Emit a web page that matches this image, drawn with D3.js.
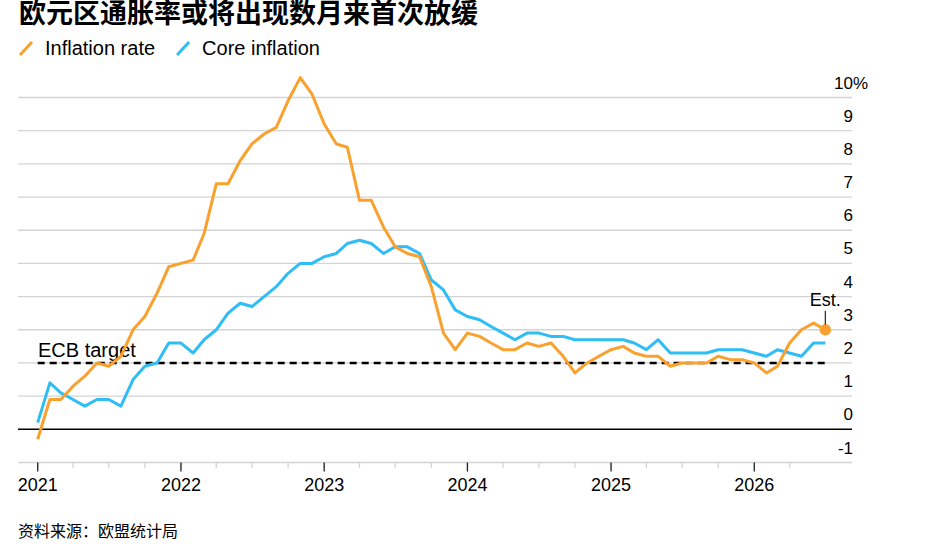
<!DOCTYPE html>
<html>
<head>
<meta charset="utf-8">
<script src="https://cdn.jsdelivr.net/npm/d3@7"></script>
<style>
  body { margin: 0; background: #fff; }
  svg { display: block; font-family: "Liberation Sans", Arial, sans-serif; }
</style>
</head>
<body>
<svg id="chart" width="935" height="551"></svg>
<script>
/*jslint browser:true */

// Monthly readings, first point is Jan 2021 on the axis
const firstMonth = new Date(2021, 0, 1);

const inflationRate = [
  -0.3, 0.9, 0.9, 1.3, 1.6, 2.0, 1.9, 2.2, 3.0, 3.4, 4.1, 4.9,
  5.0, 5.1, 5.9, 7.4, 7.4, 8.1, 8.6, 8.9, 9.1, 9.9, 10.6, 10.1,
  9.2, 8.6, 8.5, 6.9, 6.9, 6.1, 5.5, 5.3, 5.2, 4.3, 2.9, 2.4,
  2.9, 2.8, 2.6, 2.4, 2.4, 2.6, 2.5, 2.6, 2.2, 1.7, 2.0, 2.2,
  2.4, 2.5, 2.3, 2.2, 2.2, 1.9, 2.0, 2.0, 2.0, 2.2, 2.1, 2.1,
  2.0, 1.7, 1.9, 2.6, 3.0, 3.2, 3.0
];

const coreInflation = [
  0.2, 1.4, 1.1, 0.9, 0.7, 0.9, 0.9, 0.7, 1.5, 1.9, 2.0, 2.6,
  2.6, 2.3, 2.7, 3.0, 3.5, 3.8, 3.7, 4.0, 4.3, 4.7, 5.0, 5.0,
  5.2, 5.3, 5.6, 5.7, 5.6, 5.3, 5.5, 5.5, 5.3, 4.5, 4.2, 3.6,
  3.4, 3.3, 3.1, 2.9, 2.7, 2.9, 2.9, 2.8, 2.8, 2.7, 2.7, 2.7,
  2.7, 2.7, 2.6, 2.4, 2.7, 2.3, 2.3, 2.3, 2.3, 2.4, 2.4, 2.4,
  2.3, 2.2, 2.4, 2.3, 2.2, 2.6, 2.6
];

const ecbTarget = 2;
const yTicks = [-1, 0, 1, 2, 3, 4, 5, 6, 7, 8, 9, 10];
const yearLabels = ['2021', '2022', '2023', '2024', '2025', '2026'];

const titleText = '欧元区通胀率或将出现数月来首次放缓';
const sourceText = '资料来源：欧盟统计局';
const legendItems = [
  { label: 'Inflation rate', color: '#f9a12e' },
  { label: 'Core inflation', color: '#2ebdf5' }
];

(function () {
  'use strict';

  const svg = d3.select('#chart');
  const orange = legendItems[0].color;
  const blue = legendItems[1].color;

  const gridLeft = 18;
  const gridRight = 852;

  const monthDate = i => d3.timeMonth.offset(firstMonth, i);
  const years = yearLabels.map(y => new Date(+y, 0, 1));

  const x = d3.scaleTime()
    .domain([years[0], years[years.length - 1]])
    .range([37.7, 754.3]);

  const y = d3.scaleLinear()
    .domain([-1, 10])
    .range([462.5, 97.5]);

  // Title
  svg.append('text')
    .attr('x', 19)
    .attr('y', 23)
    .style('font-family', '"Noto Sans CJK SC", sans-serif')
    .style('font-weight', 700)
    .style('font-size', '27px')
    .text(titleText);

  // Legend
  let lx = 19;
  legendItems.forEach(item => {
    svg.append('line')
      .attr('x1', lx + 1).attr('y1', 55)
      .attr('x2', lx + 13).attr('y2', 42)
      .attr('stroke', item.color)
      .attr('stroke-width', 3);
    const t = svg.append('text')
      .attr('x', lx + 26)
      .attr('y', 55)
      .style('font-size', '20px')
      .text(item.label);
    lx += 26 + t.node().getComputedTextLength() + 21;
  });

  // Gridlines and value labels
  const grid = svg.append('g');
  yTicks.forEach(v => {
    grid.append('line')
      .attr('x1', gridLeft).attr('x2', gridRight)
      .attr('y1', y(v)).attr('y2', y(v))
      .attr('stroke', v === 0 ? '#000' : '#d4d4d4')
      .attr('stroke-width', v === 0 ? 1.4 : 1.3);
    grid.append('text')
      .attr('x', gridRight + 1)
      .attr('y', y(v) - 9)
      .attr('text-anchor', 'end')
      .style('font-size', '17px')
      .text(v);
    if (v === 10) {
      grid.append('text')
        .attr('x', gridRight + 1)
        .attr('y', y(v) - 9)
        .style('font-size', '17px')
        .text('%');
    }
  });

  // Time axis: quarterly minor ticks, yearly major ticks
  const axisY = y(-1);
  const minorTicks = d3.timeMonth.every(3).range(years[0], d3.timeMonth.offset(years[years.length - 1], 4));
  const axis = svg.append('g');
  axis.selectAll('.minor')
    .data(minorTicks)
    .join('line')
    .attr('x1', d => x(d)).attr('x2', d => x(d))
    .attr('y1', axisY).attr('y2', axisY + 5.5)
    .attr('stroke', '#d4d4d4')
    .attr('stroke-width', 1.3);
  axis.selectAll('.major')
    .data(years)
    .join('line')
    .attr('x1', d => x(d)).attr('x2', d => x(d))
    .attr('y1', axisY).attr('y2', axisY + 9)
    .attr('stroke', '#222')
    .attr('stroke-width', 1.3);
  axis.selectAll('text')
    .data(years)
    .join('text')
    .attr('x', d => x(d))
    .attr('y', 491)
    .attr('text-anchor', 'middle')
    .style('font-size', '18px')
    .text(d => d3.timeFormat('%Y')(d));

  // ECB target
  const lastDate = monthDate(inflationRate.length - 1);
  svg.append('line')
    .attr('x1', x(firstMonth)).attr('x2', x(lastDate))
    .attr('y1', y(ecbTarget)).attr('y2', y(ecbTarget))
    .attr('stroke', '#000')
    .attr('stroke-width', 2.5)
    .attr('stroke-dasharray', '7,5');
  svg.append('text')
    .attr('x', 38)
    .attr('y', y(ecbTarget) - 6)
    .style('font-size', '20px')
    .text('ECB target');

  // Series
  const line = d3.line()
    .x((d, i) => x(monthDate(i)))
    .y(d => y(d));

  svg.append('path')
    .datum(coreInflation)
    .attr('d', line)
    .attr('fill', 'none')
    .attr('stroke', blue)
    .attr('stroke-width', 3)
    .attr('stroke-linejoin', 'round');

  svg.append('path')
    .datum(inflationRate)
    .attr('d', line)
    .attr('fill', 'none')
    .attr('stroke', orange)
    .attr('stroke-width', 3)
    .attr('stroke-linejoin', 'round');

  // Estimate marker
  const estValue = inflationRate[inflationRate.length - 1];
  const ex = x(lastDate);
  const ey = y(estValue);
  svg.append('circle')
    .attr('cx', ex).attr('cy', ey)
    .attr('r', 5.8)
    .attr('fill', orange);
  svg.append('line')
    .attr('x1', ex).attr('x2', ex)
    .attr('y1', ey - 19).attr('y2', ey - 5)
    .attr('stroke', '#222')
    .attr('stroke-width', 1.2);
  svg.append('text')
    .attr('x', ex)
    .attr('y', ey - 24)
    .attr('text-anchor', 'middle')
    .style('font-size', '18px')
    .text('Est.');

  // Source
  svg.append('text')
    .attr('x', 18)
    .attr('y', 537)
    .style('font-family', '"Noto Sans CJK SC", sans-serif')
    .style('font-size', '16px')
    .text(sourceText);
}());
</script>
</body>
</html>
